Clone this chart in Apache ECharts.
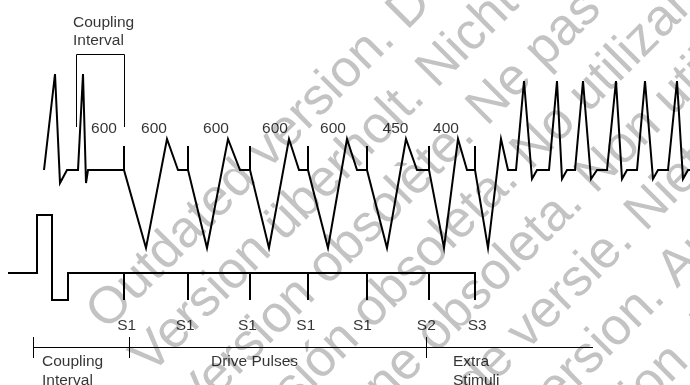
<!DOCTYPE html>
<html>
<head>
<meta charset="utf-8">
<script src="https://cdn.jsdelivr.net/npm/echarts@6/dist/echarts.min.js"></script>
<style>
html,body{margin:0;padding:0;background:#fff;}
#chart{width:690px;height:385px;}
</style>
</head>
<body>
<div id="chart"></div>
<script>
// ---------- data ----------
// surface ECG levels (vertical axis units, axis is inverted)
const ecgBaseline = 170;
const sinusPeak = 74, sinusDip = 183;
const pacedTroughLevel = 248, pacedPeakLevel = 139;
const stimMarkTop = 146;
const vtPeakLevel = 81, vtDipLevel = 179;

// intrinsic (sinus) beats
const sinusStart = 44;
const sinusOnsets = [44, 78];
const sinusPeaks = [55, 83];
const sinusDips = [60, 86];
const sinusReturns = [67, 88];

// stimulus times (S1 x5, S2, S3)
const stimTimes = [124, 188, 250, 308, 367, 429, 475];
const stimNames = ['S1', 'S1', 'S1', 'S1', 'S1', 'S2', 'S3'];
// paced complexes following each stimulus
const pacedTroughs = [146, 207, 269, 328, 387, 444, 488];
const pacedPeaks = [167, 228, 289, 347, 406, 458, 501];
const pacedReturns = [178, 240, 299, 357, 417, 467, 508];

// induced tachycardia
const vtOnsets = [516, 549, 575, 607, 637, 668];
const vtPeaks = [524, 557, 583, 616, 645, 677];
const vtDips = [532, 562, 591, 622, 653, 683];
const vtReturns = [537, 567, 597, 627, 658, 688];
const traceEnd = 690;

// stimulation channel
const stimBase = 273, pulseHigh = 215, pulseLow = 300;
const stimStart = 8;
const pulseEdges = [37, 52, 68];

// coupling interval bracket (top)
const bracketLeft = 76.5, bracketRight = 124.5, bracketTop = 54.5, bracketBottom = 127;

// interval labels
const intervalLabels = ['600', '600', '600', '600', '600', '450', '400'];
const intervalLabelX = [104, 154, 216, 275, 333, 395.5, 446];
const intervalLabelY = 128.6;
const stimLabelX = [126.7, 185.2, 247.5, 305.8, 362.5, 426.3, 477.2];
const stimLabelY = 326.2;

// phase timeline
const timelineLevel = 347.5, timelineStart = 33, timelineEnd = 593;
const timelineTicks = [33.5, 129.5, 426.5];
const timelineTickTop = 337, timelineTickBottom = 358;
const phaseLabels = ['Coupling\nInterval', 'Drive Pulses', 'Extra\nStimuli'];
const phaseLabelX = [42, 211, 453];
const phaseLabelY = [371.3, 362, 371.3];
const topLabel = 'Coupling\nInterval';
const topLabelPos = [73, 31.5];

// watermark lines
const watermarkLines = [
  'Outdated version. Do not use.',
  'Version überholt. Nicht verwenden.',
  'Version obsolète. Ne pas utiliser.',
  'Versión obsoleta. No utilizar.',
  'Versione obsoleta. Non utilizzare.',
  'Verouderde versie. Niet gebruiken.',
  'Föråldrad version. Använd ej.',
  'Forældet version. Må ikke anvendes.'
];

// ---------- build the traces ----------
const ecg = [];
for (let i = 0; i < sinusPeaks.length; i++) {
  ecg.push([sinusOnsets[i], ecgBaseline], [sinusPeaks[i], sinusPeak], [sinusDips[i], sinusDip], [sinusReturns[i], ecgBaseline]);
}
for (let i = 0; i < stimTimes.length; i++) {
  const t = stimTimes[i];
  ecg.push([t, ecgBaseline], [t, stimMarkTop], [t, ecgBaseline]);
  ecg.push([pacedTroughs[i], pacedTroughLevel], [pacedPeaks[i], pacedPeakLevel], [pacedReturns[i], ecgBaseline]);
}
for (let i = 0; i < vtPeaks.length; i++) {
  ecg.push([vtOnsets[i], ecgBaseline], [vtPeaks[i], vtPeakLevel], [vtDips[i], vtDipLevel], [vtReturns[i], ecgBaseline]);
}
ecg.push([traceEnd, ecgBaseline]);

const stim = [[stimStart, stimBase], [pulseEdges[0], stimBase], [pulseEdges[0], pulseHigh],
  [pulseEdges[1], pulseHigh], [pulseEdges[1], pulseLow], [pulseEdges[2], pulseLow], [pulseEdges[2], stimBase]];
stimTimes.forEach((t, i) => {
  stim.push([t, stimBase], [t, pulseLow]);
  if (i < stimTimes.length - 1) stim.push([t, stimBase]);
});

const bracket = [[bracketLeft, bracketBottom], [bracketLeft, bracketTop], [bracketRight, bracketTop], [bracketRight, bracketBottom]];

const thinSegments = [{ coords: bracket },
  { coords: [[timelineStart, timelineLevel], [timelineEnd, timelineLevel]] }];
timelineTicks.forEach(x => thinSegments.push({ coords: [[x, timelineTickTop], [x, timelineTickBottom]] }));

const font = '"Liberation Sans", Arial, Helvetica, sans-serif';
const labelData = [];
intervalLabels.forEach((t, i) => labelData.push({ name: t, value: [intervalLabelX[i], intervalLabelY] }));
stimNames.forEach((t, i) => labelData.push({ name: t, value: [stimLabelX[i], stimLabelY] }));
phaseLabels.forEach((t, i) => labelData.push({ name: t, value: [phaseLabelX[i], phaseLabelY[i]], label: { align: 'left' } }));
labelData.push({ name: topLabel, value: topLabelPos, label: { align: 'left' } });

// watermark placement (rotated 45 degrees)
const wmSize = 52;
const graphics = watermarkLines.map((t, k) => ({
  type: 'text',
  x: 96.25 + 44 * k,
  y: 321.25 + 44 * k,
  rotation: Math.PI / 4,
  z: -10,
  silent: true,
  style: {
    text: t,
    fill: '#c3c3c3',
    fontSize: wmSize,
    fontFamily: font,
    align: 'left', textAlign: 'left',
    verticalAlign: 'middle', textVerticalAlign: 'middle'
  }
}));

const chart = echarts.init(document.getElementById('chart'), null, { renderer: 'canvas' });
chart.setOption({
  animation: false,
  backgroundColor: '#ffffff',
  graphic: { elements: graphics },
  grid: { left: 0, right: 0, top: 0, bottom: 0, containLabel: false },
  xAxis: { type: 'value', min: 0, max: 690, show: false },
  yAxis: { type: 'value', min: 0, max: 385, inverse: true, show: false },
  series: [
    {
      type: 'lines', coordinateSystem: 'cartesian2d', polyline: true, silent: true, z: 5,
      lineStyle: { color: '#000', width: 2, opacity: 1, curveness: 0 },
      data: [{ coords: ecg }, { coords: stim }]
    },
    {
      type: 'lines', coordinateSystem: 'cartesian2d', polyline: true, silent: true, z: 5,
      lineStyle: { color: '#000', width: 1, opacity: 1, curveness: 0 },
      data: thinSegments
    },
    {
      type: 'scatter', silent: true, z: 6, symbolSize: 1,
      itemStyle: { color: 'rgba(0,0,0,0)' },
      label: {
        show: true, position: 'inside', color: '#000', fontSize: 15.5, fontFamily: font,
        lineHeight: 18.4, align: 'center', verticalAlign: 'middle',
        formatter: p => p.name
      },
      data: labelData
    }
  ]
});
</script>
</body>
</html>
